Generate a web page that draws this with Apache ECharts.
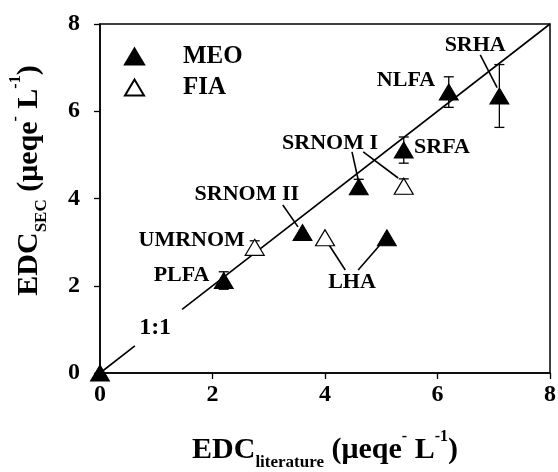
<!DOCTYPE html>
<html>
<head>
<meta charset="utf-8">
<script src="https://cdn.jsdelivr.net/npm/echarts@6/dist/echarts.min.js"></script>
<style>
  html, body { margin: 0; padding: 0; background: #fff; }
  #chart { width: 558px; height: 472px; }
</style>
</head>
<body>
<div id="chart"></div>
<script>
// MEO measurements (filled triangles)
const meoNames = ['Origin', 'PLFA', 'SRNOM II', 'SRNOM I', 'LHA', 'SRFA', 'NLFA', 'SRHA'];
const meoX = [0, 2.2, 3.6, 4.6, 5.1, 5.4, 6.2, 7.1];
const meoY = [0, 2.12, 3.22, 4.27, 3.1, 5.11, 6.44, 6.35];
const meoErr = [0, 0.2, 0, 0.17, 0, 0.3, 0.35, 0.72];

// FIA measurements (open triangles)
const fiaNames = ['UMRNOM', 'LHA', 'SRNOM I'];
const fiaX = [2.75, 4.0, 5.4];
const fiaY = [2.88, 3.1, 4.28];
const fiaErr = [0.15, 0, 0.17];

// Sample labels and their anchor points (text centre)
const labelText = ['SRHA', 'NLFA', 'SRNOM I', 'SRFA', 'SRNOM II', 'UMRNOM', 'PLFA', 'LHA', '1:1'];
const labelX = [6.67, 5.44, 4.09, 6.08, 2.61, 1.63, 1.45, 4.48, 0.98];
const labelY = [7.52, 6.72, 5.27, 5.18, 4.1, 3.05, 2.25, 2.09, 1.03];
const labelSize = [22, 22, 22, 22, 22, 22, 22, 22, 24];

// Leader lines from labels to points: [x1, y1, x2, y2]
const leaderSegments = [
  [6.76, 7.29, 7.06, 6.54],
  [4.48, 5.07, 4.59, 4.43],
  [4.68, 5.07, 5.3, 4.47],
  [3.25, 3.85, 3.52, 3.35],
  [4.07, 2.94, 4.36, 2.36],
  [4.59, 2.36, 4.98, 2.94]
];

// 1:1 reference line, broken around its label
const oneToOneSegments = [
  [0, 0, 0.62, 0.62],
  [1.46, 1.46, 8, 8]
];

const serif = '"Liberation Serif", "Times New Roman", serif';

function zip3(xs, ys, es) {
  return xs.map((x, i) => [x, ys[i], es[i]]);
}

function segmentItem(params, api) {
  const p1 = api.coord([api.value(0), api.value(1)]);
  const p2 = api.coord([api.value(2), api.value(3)]);
  return {
    type: 'line',
    shape: { x1: p1[0], y1: p1[1], x2: p2[0], y2: p2[1] },
    style: { stroke: '#000', lineWidth: 1.6 }
  };
}

function errorBarItem(params, api) {
  const x = api.value(0), y = api.value(1), e = api.value(2);
  if (!e) return null;
  const top = api.coord([x, y + e]);
  const bot = api.coord([x, y - e]);
  const hw = 5;
  const st = { stroke: '#000', lineWidth: 1.3 };
  return {
    type: 'group',
    children: [
      { type: 'line', shape: { x1: top[0], y1: top[1], x2: bot[0], y2: bot[1] }, style: st },
      { type: 'line', shape: { x1: top[0] - hw, y1: top[1], x2: top[0] + hw, y2: top[1] }, style: st },
      { type: 'line', shape: { x1: bot[0] - hw, y1: bot[1], x2: bot[0] + hw, y2: bot[1] }, style: st }
    ]
  };
}

function labelItem(params, api) {
  const i = params.dataIndex;
  const p = api.coord([api.value(0), api.value(1)]);
  return {
    type: 'text',
    x: p[0], y: p[1],
    style: {
      text: labelText[i],
      fill: '#000',
      font: 'bold ' + labelSize[i] + 'px ' + serif,
      align: 'center',
      verticalAlign: 'middle'
    }
  };
}

const titleRich = {
  m: { fontFamily: serif, fontWeight: 'bold', fontSize: 30, lineHeight: 42, color: '#000', verticalAlign: 'middle' },
  s: { fontFamily: serif, fontWeight: 'bold', fontSize: 17, lineHeight: 18, color: '#000', verticalAlign: 'bottom' },
  p: { fontFamily: serif, fontWeight: 'bold', fontSize: 16, lineHeight: 16, color: '#000', verticalAlign: 'top' }
};

const chart = echarts.init(document.getElementById('chart'), null, { renderer: 'canvas' });

chart.setOption({
  animation: false,
  backgroundColor: '#fff',
  grid: {
    left: 100, right: 8, top: 24, bottom: 99,
    outerBoundsMode: 'none',
    containLabel: false,
    show: true, borderColor: '#000', borderWidth: 1.5, backgroundColor: 'transparent'
  },
  legend: {
    orient: 'vertical',
    left: 124, top: 44,
    padding: 0,
    itemGap: 6,
    itemWidth: 19, itemHeight: 16,
    data: ['MEO', 'FIA'],
    textStyle: {
      fontFamily: serif, fontWeight: 'bold', fontSize: 25, color: '#000',
      lineHeight: 24, padding: [0, 0, 0, 34]
    }
  },
  xAxis: {
    type: 'value', min: 0, max: 8, interval: 2,
    name: '{m|EDC}{s|literature}{m| (μeqe}{p|-}{m| L}{p|-1}{m|)}',
    nameLocation: 'middle', nameGap: 56,
    nameTextStyle: { rich: titleRich },
    axisLine: { show: true, lineStyle: { color: '#000', width: 1.5 } },
    axisTick: { show: true, inside: false, length: 6, lineStyle: { color: '#000', width: 1.3 } },
    axisLabel: {
      margin: 10, color: '#000', fontFamily: serif, fontWeight: 'bold', fontSize: 24
    },
    splitLine: { show: false }
  },
  yAxis: {
    type: 'value', min: 0, max: 8, interval: 2,
    name: '{m|EDC}{s|SEC}{m| (μeqe}{p|-}{m| L}{p|-1}{m|)}',
    nameLocation: 'middle', nameGap: 50,
    nameTextStyle: { rich: titleRich, padding: [0, 0, 0, 36] },
    axisLine: { show: true, lineStyle: { color: '#000', width: 1.5 } },
    axisTick: { show: true, inside: false, length: 6, lineStyle: { color: '#000', width: 1.3 } },
    axisLabel: {
      margin: 20, color: '#000', fontFamily: serif, fontWeight: 'bold', fontSize: 24
    },
    splitLine: { show: false }
  },
  series: [
    {
      name: 'ref',
      type: 'custom',
      renderItem: segmentItem,
      data: oneToOneSegments.concat(leaderSegments),
      encode: { x: [0, 2], y: [1, 3] },
      clip: false,
      silent: true,
      z: 1
    },
    {
      name: 'errMEO',
      type: 'custom',
      renderItem: errorBarItem,
      data: zip3(meoX, meoY, meoErr),
      encode: { x: 0, y: 1 },
      silent: true,
      z: 2
    },
    {
      name: 'errFIA',
      type: 'custom',
      renderItem: errorBarItem,
      data: zip3(fiaX, fiaY, fiaErr),
      encode: { x: 0, y: 1 },
      silent: true,
      z: 2
    },
    {
      name: 'MEO',
      type: 'scatter',
      symbol: 'triangle',
      symbolSize: [19, 16],
      clip: false,
      itemStyle: { color: '#000', borderColor: '#000', borderWidth: 1, opacity: 1 },
      data: meoX.map((x, i) => ({ name: meoNames[i], value: [x, meoY[i]] })),
      z: 3
    },
    {
      name: 'FIA',
      type: 'scatter',
      symbol: 'triangle',
      symbolSize: [19, 16],
      clip: false,
      itemStyle: { color: '#fff', borderColor: '#000', borderWidth: 1.2, opacity: 1 },
      data: fiaX.map((x, i) => ({ name: fiaNames[i], value: [x, fiaY[i]] })),
      z: 3
    },
    {
      name: 'labels',
      type: 'custom',
      renderItem: labelItem,
      data: labelX.map((x, i) => [x, labelY[i]]),
      encode: { x: 0, y: 1 },
      clip: false,
      silent: true,
      z: 4
    }
  ]
});
</script>
</body>
</html>
